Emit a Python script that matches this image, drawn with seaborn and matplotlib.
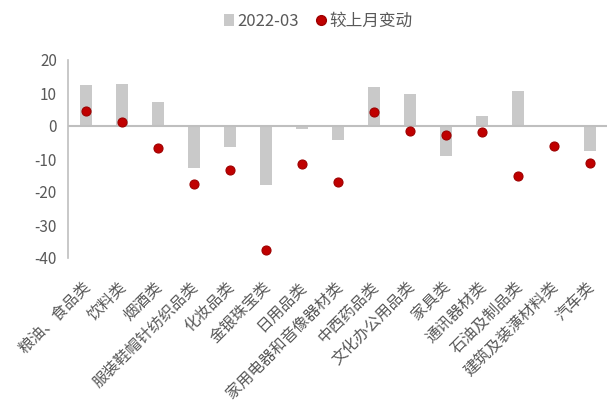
import matplotlib
matplotlib.use("Agg")
import matplotlib.pyplot as plt
from matplotlib.patches import Patch
from matplotlib.lines import Line2D
from matplotlib.transforms import ScaledTranslation
import seaborn as sns
import numpy as np
import pandas as pd

categories = ["粮油、食品类", "饮料类", "烟酒类", "服装鞋帽针纺织品类", "化妆品类",
              "金银珠宝类", "日用品类", "家用电器和音像器材类", "中西药品类", "文化办公用品类",
              "家具类", "通讯器材类", "石油及制品类", "建筑及装潢材料类", "汽车类"]
values_2022_03 = [12.4, 12.7, 7.3, -12.6, -6.3, -17.9, -0.8, -4.3, 11.8, 9.7,
                  -9.0, 3.0, 10.6, 0.0, -7.6]
change_mom = [4.5, 1.1, -6.6, -17.6, -13.3, -37.6, -11.6, -17.1, 4.3, -1.4,
              -2.7, -1.7, -15.2, -6.1, -11.3]
yticks = [-40, -30, -20, -10, 0, 10, 20]
legend_labels = ["2022-03", "较上月变动"]

sns.set_theme(style="white")
plt.rcParams['font.family'] = ['Noto Sans CJK SC', 'DejaVu Sans']

BAR = "#C9C9C9"
DOT = "#C00000"
AXC = "#BFBFBF"
TXT = "#595959"

df = pd.DataFrame({"cat": categories, "val": values_2022_03, "chg": change_mom})

fig = plt.figure(figsize=(6.07, 4.01), dpi=100)
ax = fig.add_axes([68/607, 1-258/401, (607-68)/607, (258-60)/401])

sns.barplot(data=df, x="cat", y="val", color=BAR, width=0.33, ax=ax,
            saturation=1, edgecolor="none", linewidth=0)
sns.pointplot(data=df, x="cat", y="chg", color=DOT, linestyle="none",
              markers="o", ax=ax, markersize=6.5, markeredgecolor="#9E0000",
              markeredgewidth=0.8)

ax.set_xlim(-0.5, 14.47)
ax.set_ylim(-40, 20)
ax.set_yticks(yticks)
ax.set_yticklabels([str(t) for t in yticks], color=TXT, fontsize=11)
ax.set_xlabel("")
ax.set_ylabel("")
ax.axhline(0, color=AXC, linewidth=1.5, zorder=1)

for s in ["top", "right", "bottom"]:
    ax.spines[s].set_visible(False)
ax.spines["left"].set_color(AXC)
ax.spines["left"].set_linewidth(1.2)
ax.tick_params(axis="y", length=4, width=1, color=AXC, direction="out", pad=4)
ax.tick_params(axis="x", length=0, pad=14.5)
ax.set_xticks(range(len(categories)))
ax.set_xticklabels(categories, rotation=45, ha="right", va="top",
                   rotation_mode="anchor", color=TXT, fontsize=11.3)
shift = ScaledTranslation(-4/100, 0, fig.dpi_scale_trans)
for lbl in ax.get_xticklabels():
    lbl.set_transform(lbl.get_transform() + shift)

handles = [Patch(facecolor=BAR, edgecolor="none"),
           Line2D([], [], linestyle="none", marker="o", markersize=7,
                  markerfacecolor=DOT, markeredgecolor="#9E0000")]
fig.legend(handles, legend_labels, loc="center", bbox_to_anchor=(318/607, 1-21/401),
           ncol=2, frameon=False, fontsize=12, handlelength=0.6, handletextpad=0.2,
           columnspacing=1.0, labelcolor=TXT)

fig.savefig("out.png", dpi=100)
